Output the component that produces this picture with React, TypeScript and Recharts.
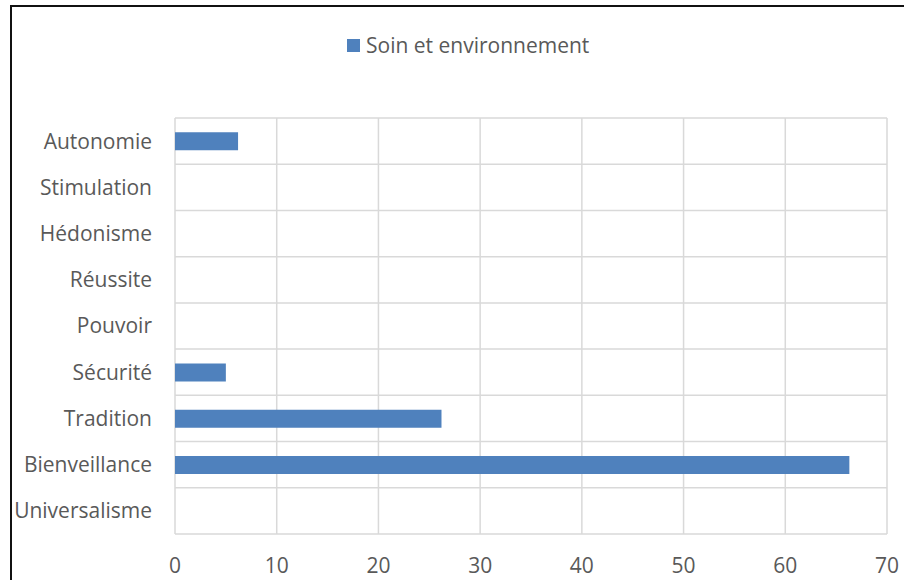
import { Bar, BarChart, CartesianGrid, Legend, XAxis, YAxis } from 'recharts';

const categories = [
    'Autonomie',
    'Stimulation',
    'Hédonisme',
    'Réussite',
    'Pouvoir',
    'Sécurité',
    'Tradition',
    'Bienveillance',
    'Universalisme',
];
const soinValues = [6.2, 0, 0, 0, 0, 5, 26.2, 66.3, 0];
const xTicks = [0, 10, 20, 30, 40, 50, 60, 70];
const seriesName = 'Soin et environnement';

const BLUE = '#4F81BD';
const TEXT = '#595959';
const FONT = '"Open Sans", "Liberation Sans", sans-serif';
const FONT_SIZE = 21;
const LEGEND_H = 26;

const chartData = categories.map((name, i) => ({ name, soin: soinValues[i] }));

const renderLegend = () => (
    <div style={{ display: 'flex', alignItems: 'center', height: LEGEND_H, fontFamily: FONT, fontSize: FONT_SIZE, color: TEXT }}>
        <span style={{ width: 13, height: 13, background: BLUE, marginRight: 6 }} />
        <span>{seriesName}</span>
    </div>
);

export default function App() {
    return (
        <div style={{ position: 'fixed', left: 0, top: 0, width: 904, height: 580, overflow: 'hidden', background: '#fff' }}>
            <div
                style={{
                    position: 'absolute',
                    left: 10,
                    top: 5,
                    width: 1000,
                    height: 1000,
                    border: '2px solid #111',
                    boxSizing: 'border-box',
                }}
            />
            <div style={{ position: 'absolute', left: 0, top: 0 }}>
                <BarChart
                    width={904}
                    height={580}
                    data={chartData}
                    layout="vertical"
                    margin={{ top: 118 - LEGEND_H, right: 17, bottom: 0, left: 15 }}
                    barCategoryGap="31%"
                >
                    <CartesianGrid
                        stroke="#d9d9d9"
                        strokeWidth={1.5}
                        horizontalCoordinatesGenerator={({ offset }: any) =>
                            categories.map((_, i) => offset.top + (i * offset.height) / categories.length).concat(offset.top + offset.height)
                        }
                    />
                    <XAxis
                        type="number"
                        domain={[0, 70]}
                        ticks={xTicks}
                        height={46}
                        axisLine={false}
                        tickLine={false}
                        tickSize={0}
                        tickMargin={24}
                        tick={{ fill: TEXT, fontSize: FONT_SIZE, fontFamily: FONT }}
                    />
                    <YAxis
                        type="category"
                        dataKey="name"
                        width={160}
                        axisLine={false}
                        tickLine={false}
                        tickSize={0}
                        tickMargin={23}
                        interval={0}
                        tick={{ fill: TEXT, fontSize: FONT_SIZE, fontFamily: FONT }}
                    />
                    <Legend
                        verticalAlign="top"
                        content={renderLegend}
                        wrapperStyle={{ top: 32, left: 347, width: 'auto' }}
                    />
                    <Bar dataKey="soin" name={seriesName} fill={BLUE} isAnimationActive={false} />
                </BarChart>
            </div>
        </div>
    );
}
